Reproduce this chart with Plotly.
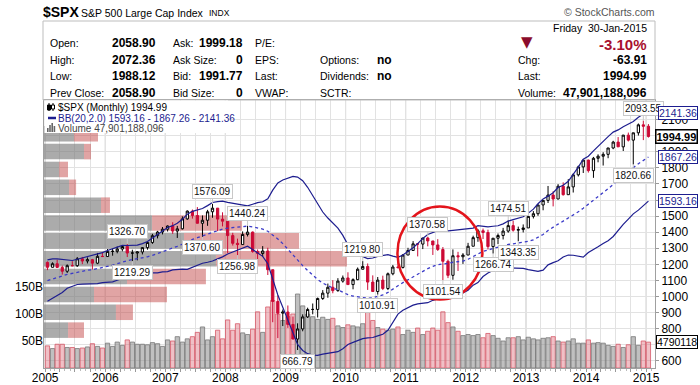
import numpy as np
import pandas as pd
import plotly.graph_objects as go

# ---------------- data ----------------
start_month = "2005-01-01"
n_months = 121
months = pd.date_range(start_month, periods=n_months, freq="MS") + pd.Timedelta(days=14)

prior_closes = [855.70, 841.15, 848.18, 916.92, 963.59, 974.50, 990.31, 1008.01, 995.97, 1050.71, 1058.20, 1111.92,
                1131.13, 1144.94, 1126.21, 1107.30, 1120.68, 1140.84, 1101.72, 1104.24, 1114.58, 1130.20, 1173.82, 1211.92]

opens = [1211.92, 1181.27, 1203.60, 1180.59, 1156.85, 1191.50, 1191.33, 1234.18, 1220.33, 1228.81, 1207.01, 1249.48,
         1248.29, 1280.08, 1280.66, 1294.83, 1310.61, 1270.09, 1270.20, 1276.66, 1303.82, 1335.85, 1377.94, 1400.63,
         1418.30, 1438.24, 1406.82, 1420.86, 1482.37, 1530.62, 1503.35, 1455.27, 1473.99, 1526.75, 1549.38, 1481.14,
         1468.36, 1378.55, 1330.63, 1322.70, 1385.59, 1400.38, 1280.00, 1267.38, 1282.83, 1166.36, 968.75, 896.24,
         903.25, 825.88, 735.09, 797.87, 872.81, 919.14, 919.32, 987.48, 1020.62, 1057.08, 1036.19, 1095.63,
         1115.10, 1073.87, 1104.49, 1169.43, 1186.69, 1089.41, 1030.71, 1101.60, 1049.33, 1141.20, 1183.26, 1180.55,
         1257.64, 1286.12, 1327.22, 1325.83, 1363.61, 1345.20, 1320.64, 1292.28, 1218.89, 1131.42, 1253.30, 1246.96,
         1257.60, 1312.41, 1365.68, 1408.47, 1397.91, 1310.33, 1362.16, 1379.32, 1406.58, 1440.67, 1412.16, 1416.18,
         1426.19, 1498.11, 1514.68, 1569.19, 1597.57, 1630.74, 1606.28, 1685.73, 1632.97, 1681.55, 1756.54, 1805.81,
         1848.36, 1782.59, 1859.45, 1872.34, 1883.95, 1923.57, 1960.23, 1930.67, 2003.37, 1972.29, 2018.05, 2067.56,
         2058.90]
highs = [1217.80, 1212.44, 1229.11, 1191.88, 1199.56, 1219.59, 1245.15, 1245.86, 1243.13, 1233.34, 1270.64, 1275.80,
         1294.90, 1297.57, 1310.88, 1318.16, 1326.70, 1290.68, 1280.42, 1306.74, 1340.28, 1389.45, 1407.89, 1431.81,
         1441.61, 1461.57, 1438.89, 1498.02, 1535.56, 1540.56, 1555.90, 1503.89, 1538.74, 1576.09, 1545.79, 1523.57,
         1471.77, 1396.02, 1359.68, 1404.57, 1440.24, 1404.05, 1292.17, 1313.15, 1303.04, 1167.03, 1007.51, 918.85,
         943.85, 875.01, 832.98, 888.70, 930.17, 956.23, 993.18, 1039.47, 1080.15, 1101.36, 1113.69, 1130.38,
         1150.45, 1112.42, 1180.16, 1219.80, 1205.13, 1131.23, 1120.95, 1129.24, 1148.90, 1196.14, 1227.08, 1262.60,
         1302.67, 1344.07, 1332.28, 1364.56, 1370.58, 1345.20, 1356.48, 1307.38, 1229.29, 1292.66, 1277.55, 1269.37,
         1333.47, 1378.04, 1419.15, 1422.38, 1415.32, 1363.46, 1391.74, 1426.68, 1474.51, 1470.96, 1434.27, 1448.00,
         1509.94, 1530.94, 1570.28, 1597.57, 1687.18, 1654.19, 1698.78, 1709.67, 1729.86, 1765.67, 1813.55, 1849.44,
         1850.84, 1867.92, 1883.97, 1897.28, 1924.03, 1968.17, 1991.39, 2005.04, 2019.26, 2018.19, 2075.76, 2093.55,
         2072.36]
lows = [1163.75, 1180.95, 1176.92, 1136.15, 1146.18, 1188.30, 1183.55, 1201.07, 1205.35, 1168.20, 1201.07, 1246.59,
        1245.74, 1253.61, 1268.42, 1280.74, 1245.34, 1219.29, 1224.54, 1261.30, 1290.93, 1327.10, 1360.98, 1385.93,
        1403.97, 1389.42, 1363.98, 1416.37, 1476.70, 1484.18, 1454.25, 1370.60, 1439.29, 1489.56, 1406.10, 1435.65,
        1270.05, 1316.75, 1256.98, 1324.35, 1373.07, 1272.00, 1200.44, 1247.45, 1133.50, 839.80, 741.02, 815.69,
        804.47, 734.52, 666.79, 783.32, 866.10, 888.86, 869.32, 978.51, 991.97, 1019.95, 1029.38, 1085.89,
        1071.59, 1044.50, 1101.36, 1170.69, 1040.78, 1028.33, 1010.91, 1039.70, 1039.70, 1131.87, 1173.00, 1173.80,
        1257.62, 1282.86, 1249.05, 1294.70, 1311.80, 1258.07, 1282.86, 1101.54, 1114.22, 1104.00, 1158.66, 1202.37,
        1257.60, 1312.41, 1340.03, 1357.38, 1291.98, 1266.74, 1325.41, 1354.65, 1396.56, 1403.28, 1343.35, 1398.11,
        1426.19, 1485.01, 1501.48, 1536.03, 1581.28, 1560.33, 1604.57, 1627.47, 1633.41, 1646.47, 1746.20, 1767.99,
        1770.45, 1737.92, 1834.44, 1814.36, 1859.79, 1915.98, 1930.67, 1904.78, 1964.04, 1820.66, 2001.01, 1972.56,
        1988.12]
closes = [1181.27, 1203.60, 1180.59, 1156.85, 1191.50, 1191.33, 1234.18, 1220.33, 1228.81, 1207.01, 1249.48, 1248.29,
          1280.08, 1280.66, 1294.83, 1310.61, 1270.09, 1270.20, 1276.66, 1303.82, 1335.85, 1377.94, 1400.63, 1418.30,
          1438.24, 1406.82, 1420.86, 1482.37, 1530.62, 1503.35, 1455.27, 1473.99, 1526.75, 1549.38, 1481.14, 1468.36,
          1378.55, 1330.63, 1322.70, 1385.59, 1400.38, 1280.00, 1267.38, 1282.83, 1166.36, 968.75, 896.24, 903.25,
          825.88, 735.09, 797.87, 872.81, 919.14, 919.32, 987.48, 1020.62, 1057.08, 1036.19, 1095.63, 1115.10,
          1073.87, 1104.49, 1169.43, 1186.69, 1089.41, 1030.71, 1101.60, 1049.33, 1141.20, 1183.26, 1180.55, 1257.64,
          1286.12, 1327.22, 1325.83, 1363.61, 1345.20, 1320.64, 1292.28, 1218.89, 1131.42, 1253.30, 1246.96, 1257.60,
          1312.41, 1365.68, 1408.47, 1397.91, 1310.33, 1362.16, 1379.32, 1406.58, 1440.67, 1412.16, 1416.18, 1426.19,
          1498.11, 1514.68, 1569.19, 1597.57, 1630.74, 1606.28, 1685.73, 1632.97, 1681.55, 1756.54, 1805.81, 1848.36,
          1782.59, 1859.45, 1872.34, 1883.95, 1923.57, 1960.23, 1930.67, 2003.37, 1972.29, 2018.05, 2067.56, 2058.90,
          1994.99]

volumes_b = [41, 36, 44, 44, 38, 38, 36, 37, 39, 45, 40, 37,
             46, 40, 48, 42, 52, 48, 44, 44, 43, 47, 45, 40,
             52, 50, 58, 48, 54, 58, 66, 76, 52, 58, 70, 54,
             89, 70, 82, 65, 62, 72, 104, 66, 113, 125, 100, 88,
             95, 100, 137, 115, 100, 95, 90, 94, 90, 92, 78, 75,
             80, 78, 76, 82, 107, 88, 75, 72, 70, 72, 76, 62,
             70, 66, 74, 62, 68, 74, 70, 104, 84, 76, 68, 60,
             62, 60, 62, 56, 64, 60, 55, 50, 56, 56, 58, 52,
             57, 54, 52, 55, 56, 58, 50, 48, 50, 54, 46, 46,
             52, 46, 47, 46, 42, 40, 44, 38, 43, 58, 42, 50,
             47.901188096]

# volume-by-price (12 zones, bottom to top), billions
vbp_up_b = [137, 410, 285, 473, 980, 798, 616, 325, 143, 86, 228, 171]
vbp_down_b = [91, 97, 416, 450, 747, 656, 513, 51, 40, 51, 40, 137]

# labelled highs / lows
label_months = ["2006-05", "2006-06", "2007-08", "2007-10", "2008-03", "2008-05", "2009-03", "2010-04",
                "2010-07", "2011-05", "2011-08", "2012-06", "2012-09", "2012-11", "2014-10", "2014-12"]
label_values = [1326.70, 1219.29, 1370.60, 1576.09, 1256.98, 1440.24, 666.79, 1219.80,
                1010.91, 1370.58, 1101.54, 1266.74, 1474.51, 1343.35, 1820.66, 2093.55]
label_sides = ["hi", "lo", "lo", "hi", "lo", "hi", "lo", "hi",
               "lo", "hi", "lo", "lo", "hi", "lo", "lo", "hi"]

price_ticks = list(range(600, 2200, 100))
price_tick_text = ["" if t in (700, 1600, 2000) else str(t) for t in price_ticks]
vol_ticks = [50e9, 100e9, 150e9]
vol_tick_text = ["50B", "100B", "150B"]

# ---------------- derived ----------------
all_c = pd.Series(prior_closes + closes)
mid = all_c.rolling(20).mean().iloc[-n_months:].values
sd = all_c.rolling(20).std(ddof=0).iloc[-n_months:].values
upper = mid + 2 * sd
lower = mid - 2 * sd

prev_c = [prior_closes[-1]] + closes[:-1]
down = [c < p for c, p in zip(closes, prev_c)]
volumes = [v * 1e9 for v in volumes_b]

edges = np.linspace(min(closes), max(closes), 13)
zone_mid = (edges[:-1] + edges[1:]) / 2
zone_h = edges[1] - edges[0]

FONT = "Liberation Sans, Arial, sans-serif"
L, T, W, H = 44, 100, 611, 268


def px(xp):
    return (xp - L) / W


def py(yp):
    return (T + H - yp) / H


fig = go.Figure()

# volume by price (base subplot)
fig.add_trace(go.Bar(y=zone_mid, x=vbp_up_b, orientation="h", width=zone_h * 0.87,
                     marker=dict(color="rgba(120,120,120,0.62)", line=dict(width=0)),
                     xaxis="x", yaxis="y", hoverinfo="skip"))
fig.add_trace(go.Bar(y=zone_mid, x=vbp_down_b, base=vbp_up_b, orientation="h", width=zone_h * 0.87,
                     marker=dict(color="rgba(192,64,64,0.48)", line=dict(width=0)),
                     xaxis="x", yaxis="y", hoverinfo="skip"))

# volume bars
fig.add_trace(go.Bar(x=months, y=volumes, width=26 * 86400000,
                     marker=dict(color=["rgba(215,90,105,0.38)" if d else "rgba(140,140,140,0.55)" for d in down],
                                 line=dict(color=["rgba(215,90,105,0.8)" if d else "rgba(120,120,120,0.8)" for d in down],
                                           width=1)),
                     xaxis="x2", yaxis="y2", hoverinfo="skip"))

# Bollinger bands
fig.add_trace(go.Scatter(x=months, y=upper, mode="lines", line=dict(color="#1d1d8f", width=1.2),
                         xaxis="x2", yaxis="y3"))
fig.add_trace(go.Scatter(x=months, y=lower, mode="lines", line=dict(color="#1d1d8f", width=1.2),
                         xaxis="x2", yaxis="y3"))
fig.add_trace(go.Scatter(x=months, y=mid, mode="lines", line=dict(color="#3b3bc8", width=1.3, dash="dot"),
                         xaxis="x2", yaxis="y3"))

# candles
fig.add_trace(go.Candlestick(x=months, open=opens, high=highs, low=lows, close=closes,
                             increasing=dict(line=dict(color="black", width=1), fillcolor="white"),
                             decreasing=dict(line=dict(color="#cc0a36", width=1), fillcolor="#cc0a36"),
                             whiskerwidth=0, xaxis="x2", yaxis="y3", hoverinfo="skip"))

quarters = pd.date_range("2005-01-01", "2015-01-01", freq="QS")
qtext = [str(d.year) if d.month == 1 else "" for d in quarters]

axis_font = dict(family=FONT, size=12, color="black")
fig.update_layout(
    width=700, height=385, margin=dict(l=L, r=700 - L - W, t=T, b=385 - T - H, autoexpand=False),
    paper_bgcolor="white", plot_bgcolor="white", showlegend=False, barmode="overlay",
    xaxis=dict(visible=False, range=[0, 3483], fixedrange=True),
    xaxis2=dict(overlaying="x", type="date", range=["2004-12-25", "2015-02-24"],
                tickvals=quarters, ticktext=qtext, showgrid=True, gridcolor="#e2e2e2", gridwidth=1,
                ticks="outside", ticklen=3, tickcolor="#999", showline=True, linecolor="#a0a0a0",
                mirror=True, tickfont=axis_font, rangeslider=dict(visible=False), zeroline=False,
                automargin=False, ticklabelstandoff=-4,
                minor=dict(ticks="outside", ticklen=2, dtick="M1", tick0="2005-01-01", tickcolor="#bbb",
                           showgrid=False)),
    yaxis=dict(range=[555, 2222], side="right", tickvals=price_ticks, ticktext=price_tick_text,
               showgrid=True, gridcolor="#e2e2e2", automargin=False,
               ticks="outside", ticklen=3, tickcolor="#999", showline=True, linecolor="#a0a0a0", mirror=True,
               tickfont=axis_font, zeroline=False),
    yaxis2=dict(overlaying="y", side="left", range=[0, 496.3e9], tickvals=vol_ticks, ticktext=vol_tick_text,
                showgrid=False, zeroline=False, ticks="", tickfont=dict(family=FONT, size=12, color="black"),
                showline=False, automargin=False),
    yaxis3=dict(overlaying="y", range=[555, 2222], visible=False),
)

shapes = []
# darker year grid lines
for y in range(2005, 2016):
    shapes.append(dict(type="line", xref="x2", yref="paper", x0=f"{y}-01-01", x1=f"{y}-01-01", y0=0, y1=1,
                       line=dict(color="#c4c4c4", width=1), layer="below"))
# header box
shapes.append(dict(type="rect", xref="paper", yref="paper", x0=px(43), x1=px(655), y0=py(100), y1=py(21),
                   line=dict(color="#bdbdbd", width=1), fillcolor="rgba(0,0,0,0)"))
# legend white backdrop
shapes.append(dict(type="rect", xref="paper", yref="paper", x0=px(44.5), x1=px(228), y0=py(133), y1=py(100.5),
                   line=dict(width=0), fillcolor="white", layer="above"))
# legend icons
shapes.append(dict(type="line", xref="paper", yref="paper", x0=px(49), x1=px(49), y0=py(111), y1=py(103),
                   line=dict(color="black", width=1), layer="above"))
shapes.append(dict(type="rect", xref="paper", yref="paper", x0=px(47.5), x1=px(50.5), y0=py(110), y1=py(105),
                   line=dict(color="black", width=1), fillcolor="black", layer="above"))
shapes.append(dict(type="line", xref="paper", yref="paper", x0=px(53), x1=px(53), y0=py(111), y1=py(103),
                   line=dict(color="black", width=1), layer="above"))
shapes.append(dict(type="rect", xref="paper", yref="paper", x0=px(51.5), x1=px(54.5), y0=py(109), y1=py(105),
                   line=dict(color="black", width=1), fillcolor="white", layer="above"))
shapes.append(dict(type="line", xref="paper", yref="paper", x0=px(48), x1=px(56), y0=py(118), y1=py(118),
                   line=dict(color="#1d1d8f", width=2.5), layer="above"))
for i, hgt in enumerate([4, 7, 9, 6]):
    shapes.append(dict(type="rect", xref="paper", yref="paper", x0=px(47 + i * 2.2), x1=px(48.6 + i * 2.2),
                       y0=py(132), y1=py(132 - hgt), line=dict(width=0), fillcolor="#666", layer="above"))
# red circle around 2011
shapes.append(dict(type="circle", xref="x2", yref="y", x0="2010-11-12", x1="2012-04-11", y0=981, y1=1560,
                   line=dict(color="#e3141b", width=2.5)))
fig.update_layout(shapes=shapes)

ann = []


def txt(xp, yp, text, size=11, color="black", bold=False, anchor="left", family=FONT):
    ann.append(dict(xref="paper", yref="paper", x=px(xp), y=py(yp), text=f"<b>{text}</b>" if bold else text,
                    showarrow=False, xanchor=anchor, yanchor="middle", borderpad=0,
                    font=dict(family=family, size=size, color=color)))


# header
txt(42, 12, "$SPX", size=14, bold=True)
txt(80, 13, "S&P 500 Large Cap Index", size=10.5)
txt(208, 13, "INDX", size=8.5)
txt(656, 12, "© StockCharts.com", size=10.5, color="#555", anchor="right")
rows_y = [43, 60, 76, 93]
for yy, lab, val in zip(rows_y, ["Open:", "High:", "Low:", "Prev Close:"], ["2058.90", "2072.36", "1988.12", "2058.90"]):
    txt(49, yy, lab, size=10.5)
    txt(157, yy, val, size=12, bold=True, anchor="right")
for yy, lab, val in zip(rows_y, ["Ask:", "Ask Size:", "Bid:", "Bid Size:"], ["1999.18", "0", "1991.77", "0"]):
    txt(172, yy, lab, size=10.5)
    txt(244, yy, val, size=12, bold=True, anchor="right")
for yy, lab in zip(rows_y, ["P/E:", "EPS:", "Last:", "VWAP:"]):
    txt(254, yy, lab, size=10.5)
for yy, lab, val in zip(rows_y[1:], ["Options:", "Dividends:", "SCTR:"], ["no", "no", ""]):
    txt(319, yy, lab, size=10.5)
    if val:
        txt(376, yy, val, size=12, bold=True)
txt(648, 28, "Friday  30-Jan-2015", size=10.5, anchor="right")
txt(527, 42, "▼", size=15, color="#8b0c2c", anchor="center", family="DejaVu Sans")
txt(648, 44, "-3.10%", size=15, bold=True, color="#a8102f", anchor="right")
for yy, lab, val in zip(rows_y[1:], ["Chg:", "Last:", "Volume:"], ["-63.91", "1994.99", "47,901,188,096"]):
    txt(517, yy, lab, size=10.5)
    txt(648, yy, val, size=12, bold=True, anchor="right")

# legend
txt(57, 107, "$SPX (Monthly) 1994.99", size=10)
txt(57, 118, "BB(20,2.0) 1593.16 - 1867.26 - 2141.36", size=10, color="#1d1d8f")
txt(57, 128, "Volume 47,901,188,096", size=10, color="#444")

# high/low labels
for m, v, s in zip(label_months, label_values, label_sides):
    ann.append(dict(xref="x2", yref="y", x=pd.Timestamp(m + "-15"), y=v, text=f"{v:.2f}", showarrow=True,
                    arrowhead=0, arrowwidth=1, arrowcolor="#c8c8c8", ax=0, ay=-12 if s == "hi" else 11,
                    bordercolor="#c8c8c8", borderwidth=1, borderpad=1, bgcolor="white",
                    font=dict(family=FONT, size=10, color="#111")))

# right axis value tags
xr = px(698)
for v, col, bold in [(upper[-1], "#1d1d8f", False), (mid[-1], "#1d1d8f", False), (lower[-1], "#1d1d8f", False),
                     (closes[-1], "black", True)]:
    ann.append(dict(xref="paper", yref="y", x=xr, y=v, text=f"<b>{v:.2f}</b>" if bold else f"{v:.2f}",
                    showarrow=False, xanchor="right", yanchor="middle", bordercolor=col,
                    borderwidth=1.5 if bold else 1, borderpad=0, bgcolor="white",
                    font=dict(family=FONT, size=11 if bold else 10.5, color=col)))
ann.append(dict(xref="paper", yref="y2", x=xr, y=volumes[-1], text=f"{int(volumes[-1] / 1e4)}",
                showarrow=False, xanchor="right", yanchor="middle", bordercolor="black", borderwidth=1,
                borderpad=0, bgcolor="white", font=dict(family=FONT, size=10.5, color="black")))

fig.update_layout(annotations=ann)
fig.write_html("out.html", config={"displayModeBar": False},
               post_script="document.body.style.margin='0px';")
